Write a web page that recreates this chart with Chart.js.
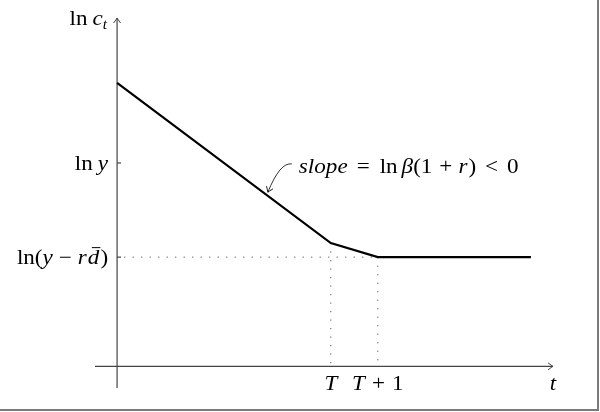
<!DOCTYPE html>
<html><head><meta charset="utf-8">
<script src="https://cdn.jsdelivr.net/npm/chart.js@4/dist/chart.umd.min.js"></script>
<style>html,body{margin:0;padding:0;background:#fff}canvas{display:block}</style>
</head><body>
<canvas id="c" width="600" height="412"></canvas>
<script>
// ---- data ----
const tPoints = [0, 4.55, 5.55, 8.81];      // t values of the consumption path
const lnC     = [2.85, 1.15, 1.0, 1.0];     // ln c_t values
const T = 4.55, T1 = 5.55;                  // x tick positions
const lnY = 2.0, lnYrd = 1.0;               // y tick positions
const xTickLabels = ['T', 'T+1'];
const yTickLabels = ['ln y', 'ln(y − r d̄)'];
const xRange = [-0.47, 9.28];
const yRange = [-0.39, 3.54];
const xAxisAt = -0.16;
const slopeLabelAt = [3.87, 1.89];
const slopeArrow = [[3.72, 1.99], [3.47, 2.01], [3.21, 1.69]];

const FONT = '"Liberation Serif", "Times New Roman", serif';
const FS = 21;
const SX = 1.1;   // horizontal stretch to mimic the wider Computer Modern glyphs

function runsWidth(ctx, runs) {
  let w = 0;
  for (const r of runs) {
    if (r.sp) { w += r.sp; continue; }
    ctx.font = (r.it ? 'italic ' : '') + (r.fs || FS) + 'px ' + FONT;
    w += ctx.measureText(r.t).width * SX;
  }
  return w;
}
function drawRuns(ctx, runs, x, y, align) {
  const w = runsWidth(ctx, runs);
  let cx = align === 'right' ? x - w : align === 'center' ? x - w / 2 : x;
  ctx.fillStyle = '#000';
  ctx.textBaseline = 'alphabetic';
  ctx.textAlign = 'left';
  for (const r of runs) {
    if (r.sp) { cx += r.sp; continue; }
    ctx.font = (r.it ? 'italic ' : '') + (r.fs || FS) + 'px ' + FONT;
    const tw = ctx.measureText(r.t).width * SX;
    ctx.save();
    ctx.translate(cx, y + (r.dy || 0));
    ctx.scale(SX, 1);
    ctx.fillText(r.t, 0, 0);
    ctx.restore();
    if (r.bar) {
      ctx.save(); ctx.strokeStyle = '#000'; ctx.lineWidth = 1;
      ctx.beginPath(); ctx.moveTo(cx + 4, y - 16.5); ctx.lineTo(cx + tw + 1, y - 16.5); ctx.stroke();
      ctx.restore();
    }
    cx += tw;
  }
}
function arrowHead(ctx, x, y, ang) {
  // TikZ-like open "to" arrow head
  ctx.save();
  ctx.translate(x, y); ctx.rotate(ang);
  ctx.beginPath();
  ctx.moveTo(-5, -3.5); ctx.quadraticCurveTo(-1.5, -0.8, 0, 0);
  ctx.quadraticCurveTo(-1.5, 0.8, -5, 3.5);
  ctx.stroke();
  ctx.restore();
}

const labelRuns = {
  'ln y': [{t:'ln'},{sp:5},{t:'y',it:true}],
  'ln(y − r d̄)': [{t:'ln('},{t:'y',it:true},{sp:6},{t:'−'},{sp:6},{t:'r',it:true},{sp:1},{t:'d',it:true,bar:true},{sp:1},{t:')'}],
  'T': [{t:'T',it:true}],
  'T+1': [{t:'T',it:true},{sp:7},{t:'+'},{sp:7},{t:'1'}]
};

const overlay = {
  id: 'overlay',
  afterDatasetsDraw(chart) {
    const ctx = chart.ctx, xs = chart.scales.x, ys = chart.scales.y;
    const px = v => xs.getPixelForValue(v), py = v => ys.getPixelForValue(v);
    ctx.save();
    // arrow heads of axes
    ctx.strokeStyle = '#444'; ctx.lineWidth = 1;
    arrowHead(ctx, px(0), py(yRange[1]), -Math.PI / 2);
    arrowHead(ctx, px(xRange[1]), py(xAxisAt), 0);
    // small ticks
    ctx.strokeStyle = '#444'; ctx.lineWidth = 1.2;
    [lnY, lnYrd].forEach(v => { ctx.beginPath(); ctx.moveTo(px(0), py(v)); ctx.lineTo(px(0) + 4, py(v)); ctx.stroke(); });
    // y tick labels
    drawRuns(ctx, labelRuns[yTickLabels[0]], px(0) - 9, py(lnY) + 7, 'right');
    drawRuns(ctx, labelRuns[yTickLabels[1]], px(0) - 9, py(lnYrd) + 7, 'right');
    // x tick labels
    drawRuns(ctx, labelRuns[xTickLabels[0]], px(T), py(xAxisAt) + 24, 'center');
    drawRuns(ctx, labelRuns[xTickLabels[1]], px(T1), py(xAxisAt) + 24, 'center');
    // axis titles
    drawRuns(ctx, [{t:'t',it:true}], px(xRange[1]), py(xAxisAt) + 24, 'center');
    drawRuns(ctx, [{t:'ln'},{sp:5},{t:'c',it:true},{t:'t',it:true,fs:14,dy:4}], px(0) - 10, py(yRange[1]) + 7, 'right');
    // slope annotation
    drawRuns(ctx, [{t:'slope',it:true},{sp:9},{t:'='},{sp:10},{t:'ln'},{sp:4},{t:'β',it:true},{t:'(1'},{sp:7},{t:'+'},{sp:6},{t:'r',it:true},{sp:1},{t:')'},{sp:9},{t:'<'},{sp:9},{t:'0'}],
      px(slopeLabelAt[0]), py(slopeLabelAt[1]), 'left');
    const [a, c, b] = slopeArrow.map(p => [px(p[0]), py(p[1])]);
    ctx.strokeStyle = '#000'; ctx.lineWidth = 0.8;
    ctx.beginPath(); ctx.moveTo(a[0], a[1]); ctx.quadraticCurveTo(c[0], c[1], b[0], b[1]); ctx.stroke();
    arrowHead(ctx, b[0], b[1], Math.atan2(b[1] - c[1], b[0] - c[0]));
    ctx.restore();
  },
  afterDraw(chart) {
    const ctx = chart.ctx;
    ctx.save(); ctx.fillStyle = '#7a7a7a';
    ctx.fillRect(597, 0, 2, 411);
    ctx.fillRect(0, 409, 599, 2);
    ctx.restore();
  }
};

const dotted = { borderColor: '#555', borderWidth: 1, borderDash: [1.2, 7.3], pointRadius: 0, fill: false };
new Chart(document.getElementById('c'), {
  type: 'line',
  data: {
    datasets: [
      { data: tPoints.map((t, i) => ({x: t, y: lnC[i]})), borderColor: '#000', borderWidth: 2.2, pointRadius: 0, tension: 0, order: 0 },
      Object.assign({ data: [{x: 0.15, y: lnYrd}, {x: T1, y: lnYrd}], order: 1 }, dotted),
      Object.assign({ data: [{x: T, y: lnC[1]}, {x: T, y: xAxisAt}], order: 1 }, dotted),
      Object.assign({ data: [{x: T1, y: lnYrd}, {x: T1, y: xAxisAt}], order: 1 }, dotted),
      { data: [{x: xRange[0], y: xAxisAt}, {x: xRange[1], y: xAxisAt}], borderColor: '#444', borderWidth: 1.2, pointRadius: 0, order: 2 },
      { data: [{x: 0, y: yRange[0]}, {x: 0, y: yRange[1]}], borderColor: '#444', borderWidth: 1.2, pointRadius: 0, order: 2 }
    ]
  },
  options: {
    responsive: false, animation: false,
    layout: { padding: { left: 95, right: 47, top: 18, bottom: 24 } },
    plugins: { legend: { display: false }, tooltip: { enabled: false } },
    scales: {
      x: { type: 'linear', min: xRange[0], max: xRange[1], display: false },
      y: { type: 'linear', min: yRange[0], max: yRange[1], display: false }
    }
  },
  plugins: [overlay]
});
</script>
</body></html>
